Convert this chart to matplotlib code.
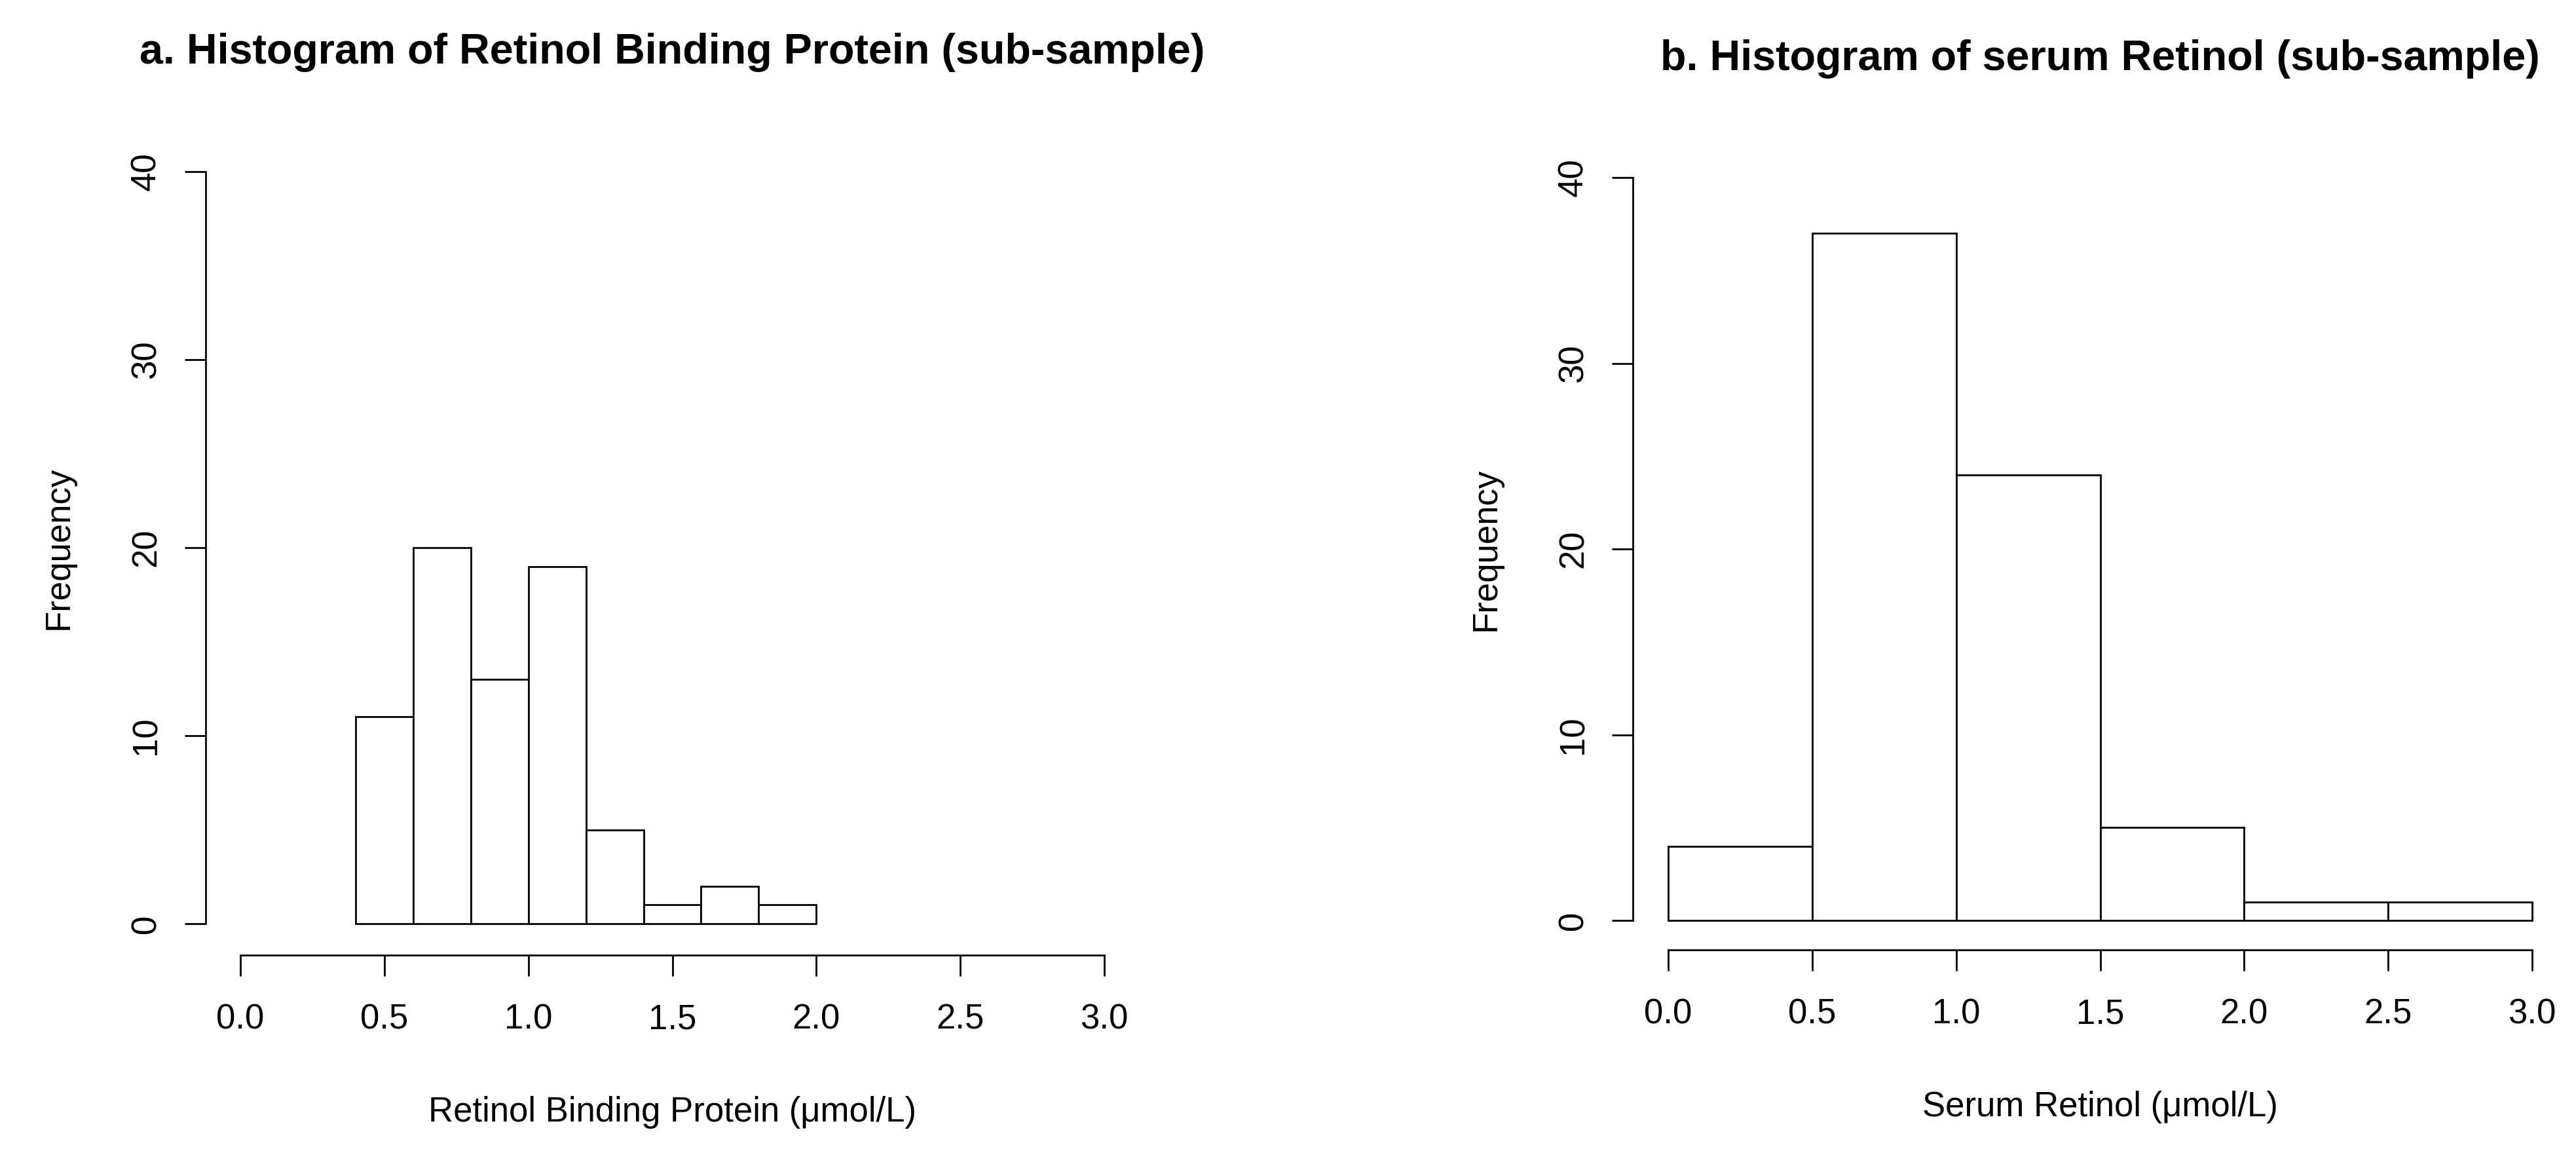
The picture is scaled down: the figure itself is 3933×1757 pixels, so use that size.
import numpy as np
import matplotlib
matplotlib.use("Agg")
import matplotlib.pyplot as plt

# bin edges and counts
rbp_edges = [0.4, 0.6, 0.8, 1.0, 1.2, 1.4, 1.6, 1.8, 2.0]
rbp_counts = [11, 20, 13, 19, 5, 1, 2, 1]

sr_edges = [0.0, 0.5, 1.0, 1.5, 2.0, 2.5, 3.0]
sr_counts = [4, 37, 24, 5, 1, 1]

x_ticks = [0.0, 0.5, 1.0, 1.5, 2.0, 2.5, 3.0]
x_tick_labels = ["0.0", "0.5", "1.0", "1.5", "2.0", "2.5", "3.0"]
y_ticks = [0, 10, 20, 30, 40]

titles = ["a. Histogram of Retinol Binding Protein (sub-sample)",
          "b. Histogram of serum Retinol (sub-sample)"]
xlabels = ["Retinol Binding Protein (\u03bcmol/L)", "Serum Retinol (\u03bcmol/L)"]

plt.rcParams['font.family'] = ['Liberation Sans', 'DejaVu Sans']

W, H = 3933, 1757
fig = plt.figure(figsize=(W / 100, H / 100), dpi=100)


def px_axes(left, right, top, bottom):
    return fig.add_axes([left / W, (H - bottom) / H, (right - left) / W, (bottom - top) / H])


def draw_hist(ax, edges, counts, title, xlabel, x0_px, x3_px, y0_px, y40_px,
              left_px, right_px, bottom_px, title_px):
    ux = (x3_px - x0_px) / 3.0
    uy = (y0_px - y40_px) / 40.0
    edges = np.array(edges)
    widths = np.diff(edges)
    ax.bar(edges[:-1], counts, width=widths, align='edge', facecolor='white',
           edgecolor='black', linewidth=2.0)
    ax.set_xlim((left_px - x0_px) / ux, (right_px - x0_px) / ux)
    ax.set_ylim((y0_px - bottom_px) / uy, 40)

    for s in ['top', 'right']:
        ax.spines[s].set_visible(False)
    ax.spines['left'].set_bounds(0, 40)
    ax.spines['bottom'].set_bounds(0, 3)
    for s in ['left', 'bottom']:
        ax.spines[s].set_linewidth(2.0)

    ax.set_xticks(x_ticks)
    ax.set_xticklabels(x_tick_labels)
    ax.set_yticks(y_ticks)
    ax.tick_params(axis='both', length=23, width=2.0, labelsize=38)
    ax.tick_params(axis='x', pad=30)
    ax.tick_params(axis='y', pad=24)
    plt.setp(ax.get_yticklabels(), rotation=90, va='center')

    height_px = bottom_px - y40_px
    ax.set_xlabel(xlabel, fontsize=38, va='center')
    ax.xaxis.set_label_coords(((x0_px + x3_px) / 2 - left_px) / (right_px - left_px),
                              (bottom_px - (bottom_px + 240)) / height_px)
    ax.set_ylabel("Frequency", fontsize=38, va='center')
    ax.yaxis.set_label_coords(-224 / (right_px - left_px),
                              (bottom_px - (y0_px + y40_px) / 2) / height_px)
    ax.set_title(title, fontsize=46.5, fontweight='bold', va='center',
                 x=((x0_px + x3_px) / 2 - left_px) / (right_px - left_px),
                 y=(bottom_px - title_px) / height_px)


ax1 = px_axes(314, 1700, 262, 1458)
draw_hist(ax1, rbp_edges, rbp_counts, titles[0], xlabels[0],
          367, 1686, 1410, 262, 314, 1700, 1458, 88)

ax2 = px_axes(2493, 3880, 271, 1450)
draw_hist(ax2, sr_edges, sr_counts, titles[1], xlabels[1],
          2547, 3866, 1405, 271, 2493, 3880, 1450, 98)

fig.savefig("out.png", dpi=100)
